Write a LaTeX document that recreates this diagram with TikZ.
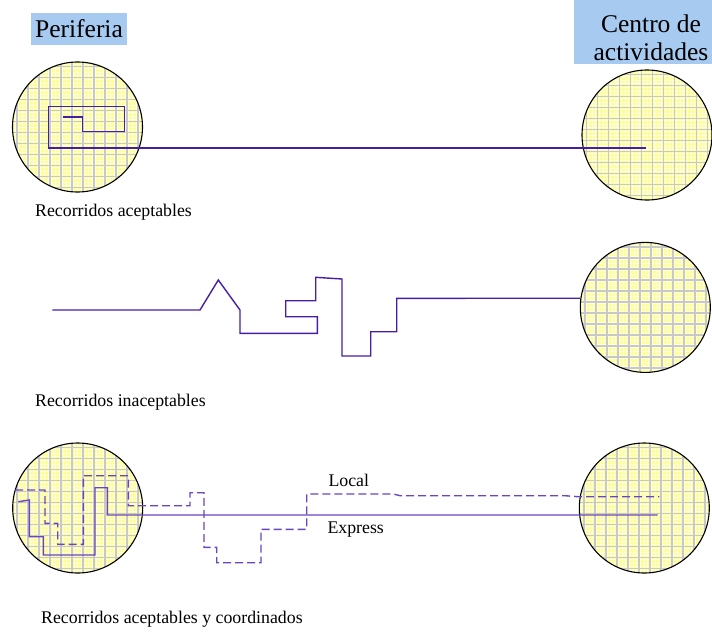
\documentclass[tikz,border=0pt]{standalone}
\usepackage{fontspec}
\setmainfont{Liberation Serif}
\definecolor{zonefill}{RGB}{255,255,145}
\definecolor{subgrid}{RGB}{255,255,225}
\definecolor{maingrid}{RGB}{200,200,200}
\definecolor{labelblue}{RGB}{166,202,240}
\definecolor{routedark}{RGB}{70,30,165}
\definecolor{routelight}{RGB}{105,70,190}

\tikzset{
  zone/.style={circle, draw=black, line width=1.1pt, minimum size=130pt, inner sep=0pt},
  route/.style={draw=routedark, line width=1.4pt, line join=miter},
  localroute/.style={draw=routelight, line width=1.4pt, dash pattern=on 8pt off 4pt},
  expressroute/.style={draw=routelight, line width=1.4pt},
  caption/.style={anchor=base west, inner sep=0pt, font=\fontsize{17.8}{20}\selectfont},
  title/.style={inner sep=0pt, font=\fontsize{25.5}{28}\selectfont},
}

% a zone: yellow disc with a fine and a coarse grid, then the named circle
\newcommand\zone[3]{%
  \begin{scope}
    \clip (#2,#3) circle[radius=65];
    \fill[zonefill] (#2-66,#3-66) rectangle (#2+66,#3+66);
    \foreach \k in {-18,...,18} {
      \draw[subgrid, line width=1pt] (#2+\k*11/3,#3-66) -- (#2+\k*11/3,#3+66);
      \draw[subgrid, line width=1pt] (#2-66,#3+\k*11/3) -- (#2+66,#3+\k*11/3);
    }
    \foreach \k in {-6,...,6} {
      \draw[maingrid, line width=1.7pt] (#2+\k*11+5.5,#3-66) -- (#2+\k*11+5.5,#3+66);
      \draw[maingrid, line width=1.7pt] (#2-66,#3+\k*11+5.5) -- (#2+66,#3+\k*11+5.5);
    }
  \end{scope}
  \node[zone] (#1) at (#2,#3) {};
}

\begin{document}
\begin{tikzpicture}[x=1pt, y=-1pt]
\useasboundingbox (0,0) rectangle (712,638);

% headings
\fill[labelblue] (31,13) rectangle (127,44.7);
\node[title] (periferia) at (79,29) {Periferia};
\fill[labelblue] (574,0) rectangle (712,64);
\node[title, align=center] (centro) at (651,37.3) {Centro de\\actividades};

% zones
\zone{topleft}{77.5}{127}
\zone{topright}{647}{135}
\zone{midright}{645.3}{307.4}
\zone{botleft}{77.7}{508}
\zone{botright}{644.3}{508}

% acceptable route
\coordinate (topend) at (646,148);
\draw[route] (62.7,117) -- (82.5,117) -- (82.5,131.5) -- (124.3,131.5)
  -- (124.3,106.7) -- (48.7,106.7) -- (48.7,148) -- (topend);
\node[caption] (cap1) at (35,216.7) {Recorridos aceptables};

% unacceptable route
\draw[route] (52.3,310) -- (200,310) -- (218.3,280) -- (240,310) -- (240,333.3)
  -- (317.3,333.3) -- (317.3,316.7) -- (285.7,316.7) -- (285.7,300.7)
  -- (315.7,300.7) -- (315.7,277.3) -- (342,279) -- (342,356) -- (370.7,356)
  -- (370.7,331.7) -- (396.7,331.7) -- (396.7,298.3) -- (midright.172);
\node[caption] (cap2) at (35,406.7) {Recorridos inaceptables};

% coordinated routes: local and express
\coordinate (localend) at (659.3,496.7);
\coordinate (expressend) at (657.7,515);
\draw[localroute] (15,490) -- (45,490) -- (45,523.3) -- (57.7,523.3) -- (57.7,544.3)
  -- (83.3,544.3) -- (83.3,475.7) -- (128.3,475.7) -- (128.3,505.7) -- (190,505.7)
  -- (190,492.7) -- (204,492.7) -- (204,547.3) -- (216.7,547.3) -- (216.7,562.7)
  -- (261,562.7) -- (261,529.3) -- (306.7,529.3) -- (306.7,494) -- (393.3,494)
  -- (400,495.7) -- (565,495.7) -- (578.3,496.7) -- (localend);
\draw[expressroute] (18.3,501.7) -- (29.3,500) -- (29.3,536.7) -- (43.3,536.7)
  -- (43.3,555) -- (95,555) -- (95,487.7) -- (107.3,487.7) -- (107.3,515)
  -- (expressend);
\node[caption] (local) at (328.3,486.7) {Local};
\node[caption] (express) at (327.3,533.3) {Express};
\node[caption] (cap3) at (41,623) {Recorridos aceptables y coordinados};
\end{tikzpicture}
\end{document}
